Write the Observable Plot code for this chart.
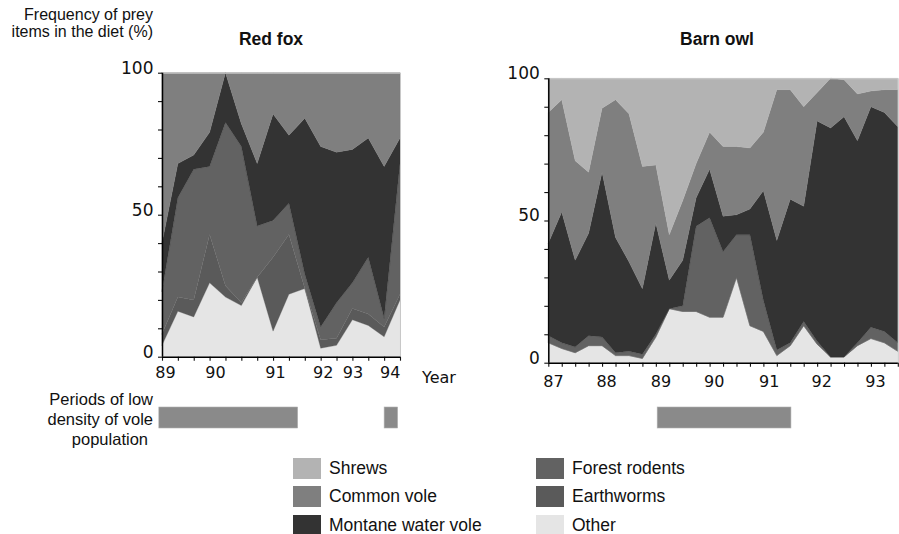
<!DOCTYPE html>
<html><head><meta charset="utf-8">
<script src="https://cdn.jsdelivr.net/npm/d3@7"></script>
<script src="https://cdn.jsdelivr.net/npm/@observablehq/plot@0.6"></script>
<style>
body{margin:0;background:#fff;}
#root{position:relative;width:899px;height:534px;overflow:hidden;font-family:"Liberation Sans",Arial,sans-serif;color:#111;}
.abs{position:absolute;white-space:nowrap;}
.lg-row{position:absolute;display:flex;align-items:center;height:28px;font-size:17.5px;}
.lg-sw{width:28px;height:21px;margin-right:8px;}
</style></head><body><div id="root"></div>
<script>
// ---- series & colours ----
const seriesNames = ["Shrews","Common vole","Montane water vole","Forest rodents","Earthworms","Other"];
const seriesColors = ["#b3b3b3","#7f7f7f","#333333","#626262","#5a5a5a","#e5e5e5"];
const stackOrder = ["Other","Earthworms","Forest rodents","Montane water vole","Common vole","Shrews"];
const yTicks = [0,10,20,30,40,50,60,70,80,90,100];
const yLabels = [0,50,100];

// ---- Red fox (16 samples) ----
const foxSample = [0,1,2,3,4,5,6,7,8,9,10,11,12,13,14,15];
const foxOther      = [4,16,14,26,21,18,28,9,22,24,3,4,13,11,7,20];
const foxEarthworms = [4,5,6,17,4,1,0,26,21,0,3,2.5,4,4,3.5,2];
const foxForest     = [15,35,46,24,57.5,55,18,13,11,5,4.5,12.5,9,20,3,46];
const foxMontane    = [17,12,5,12,17.5,8,22,37.5,24,55,63.5,53,47,42,53.5,9];
const foxCommon     = [60,32,29,21,0,18,32,14.5,22,16,26,28,27,23,33,23];
const foxShrews     = [0,0,0,0,0,0,0,0,0,0,0,0,0,0,0,0];
const foxYearPos    = [0.19,3.34,7.12,10.13,12.0,14.35];
const foxYearLabels = ["89","90","91","92","93","94"];
const foxLowStart   = [-0.2,14.0];
const foxLowEnd     = [8.55,14.85];

// ---- Barn owl (27 samples) ----
const owlSample = [0,1,2,3,4,5,6,7,8,9,10,11,12,13,14,15,16,17,18,19,20,21,22,23,24,25,26];
const owlOther      = [7,5,3.5,6,6,2.5,2.5,1.5,9,19,18,18,16,16,30,13,11,2.5,6,13,6.5,2,2,6,8.5,7,4];
const owlEarthworms = [0,0,0,0,0,0,0,0,0,0,0,0,0,0,0,0,0,0,0,0,0,0,0,0,0,0,0];
const owlForest     = [2.5,2,2,3.5,3,1,1.5,1.5,1,0,2,30,35,23,15,32,11,2,1,1.5,1,0,0,1,4,4,3];
const owlMontane    = [32.5,46,30.5,36,58,40.5,31.5,23,39,10,16,10,17,12.5,7,9,38.5,38.5,50.5,40.5,77.5,80.5,84.5,71,77.5,77,76];
const owlCommon     = [46,39.5,35,21.5,22.5,48.5,52,43,20.5,16,21,12,13,24.5,24,21.5,20.5,53,38.5,35,10,17.5,13,16.5,5.5,8,13];
const owlShrews     = [12,7.5,29,33,10.5,7.5,12.5,31,30.5,55,43,30,19,24,24,24.5,19,4,4,10,5,0,0.5,5.5,4.5,4,4];
const owlYearPos    = [0.35,4.3,8.35,12.3,16.4,20.3,24.3];
const owlYearLabels = ["87","88","89","90","91","92","93"];
const owlLowStart   = [8.1];
const owlLowEnd     = [18.05];

function buildRows(samples, bySeries) {
  const rows = [];
  for (const [name, vals] of bySeries) {
    samples.forEach((s, i) => rows.push({x: s, series: name, value: vals[i]}));
  }
  return rows;
}

const foxRows = buildRows(foxSample, [
  ["Other", foxOther], ["Earthworms", foxEarthworms], ["Forest rodents", foxForest],
  ["Montane water vole", foxMontane], ["Common vole", foxCommon], ["Shrews", foxShrews]]);
const owlRows = buildRows(owlSample, [
  ["Other", owlOther], ["Earthworms", owlEarthworms], ["Forest rodents", owlForest],
  ["Montane water vole", owlMontane], ["Common vole", owlCommon], ["Shrews", owlShrews]]);

function panel(o) {
  return Plot.plot({
    width: o.width, height: 400,
    marginLeft: o.ml, marginRight: o.mr, marginTop: o.mt, marginBottom: 400 - o.bottom,
    style: {background: "transparent", overflow: "visible"},
    x: {domain: [o.samples[0], o.samples[o.samples.length - 1]]},
    y: {domain: [0, 100]},
    color: {domain: seriesNames, range: seriesColors},
    marks: [
      Plot.areaY(o.rows, {x: "x", y: "value", fill: "series", stroke: "series", strokeWidth: 0.3, order: stackOrder}),
      Plot.frame({stroke: "#c8c8c8"}),
      Plot.axisY({ticks: yTicks, tickFormat: () => "", tickSize: 4, strokeWidth: 1.1, label: null}),
      Plot.text(yLabels, {y: d => d, text: d => String(d), frameAnchor: "left", dx: -9, dy: -5, textAnchor: "end", fontSize: 17, fontFamily: "DejaVu Sans", fill: "#111"}),
      Plot.axisX({ticks: o.samples, tickFormat: () => "", tickSize: 4, strokeWidth: 1.1, label: null}),
      Plot.text(o.yearLabels, {x: o.yearPos, text: o.yearLabels, frameAnchor: "bottom", dy: o.labelDy, fontSize: 16, fontFamily: "DejaVu Sans", fill: "#111"}),
      Plot.ruleX([o.samples[0]], {stroke: "#000", strokeWidth: 1.5}),
      Plot.ruleY([0], {stroke: "#000", strokeWidth: 1.5})
    ]
  });
}

function lowBar(o) {
  return Plot.plot({
    width: o.width, height: 21, marginLeft: o.ml, marginRight: o.mr, marginTop: 0, marginBottom: 0,
    style: {background: "transparent", overflow: "visible"},
    x: {domain: [o.samples[0], o.samples[o.samples.length - 1]], axis: null},
    marks: [Plot.barX(o.start, {x1: o.start, x2: o.end, fill: "#8a8a8a", stroke: "#b0b0b0", strokeWidth: 0.6})]
  });
}

const root = document.getElementById("root");
function place(node, left, top) {
  node.style.position = "absolute"; node.style.left = left + "px"; node.style.top = top + "px";
  root.appendChild(node);
}

const foxCfg = {samples: foxSample, rows: foxRows, yearPos: foxYearPos, yearLabels: foxYearLabels,
  width: 460, ml: 162, mr: 60, mt: 72.7, bottom: 356.7, labelDy: 21, start: foxLowStart, end: foxLowEnd};
const owlCfg = {samples: owlSample, rows: owlRows, yearPos: owlYearPos, yearLabels: owlYearLabels,
  width: 439, ml: 88.3, mr: 1.2, mt: 78.3, bottom: 362.7, labelDy: 24, start: owlLowStart, end: owlLowEnd};

place(panel(foxCfg), 0, 0);
place(lowBar(foxCfg), 0, 407.3);
place(panel(owlCfg), 460, 0);
place(lowBar(owlCfg), 460, 407.3);

function addText(html, style) {
  const d = document.createElement("div");
  d.className = "abs"; d.innerHTML = html; d.setAttribute("style", style);
  root.appendChild(d);
}
addText("Frequency of prey<br>items in the diet (%)", "right:746px;top:6px;text-align:right;font-size:16px;line-height:17px;");
addText("Red fox", "left:171px;width:200px;text-align:center;top:29px;font-size:17.5px;font-weight:bold;line-height:20px;");
addText("Barn owl", "left:617px;width:200px;text-align:center;top:29px;font-size:17.5px;font-weight:bold;line-height:20px;");
addText("Year", "left:422px;top:368px;font-size:16px;line-height:20px;font-family:'DejaVu Sans';");
addText("Periods of low<br>density of vole<br><span style='padding-right:5px'>population</span>", "right:746px;top:389px;text-align:right;font-size:16.5px;line-height:20px;");

// legend
seriesNames.forEach((name, i) => {
  const col = i < 3 ? 0 : 1, row = i % 3;
  const r = document.createElement("div");
  r.className = "lg-row";
  r.style.left = (col === 0 ? 293 : 536) + "px";
  r.style.top = (454 + row * 28.5) + "px";
  r.innerHTML = `<div class="lg-sw" style="background:${seriesColors[i]}"></div><span>${name}</span>`;
  root.appendChild(r);
});
</script>
</body></html>
